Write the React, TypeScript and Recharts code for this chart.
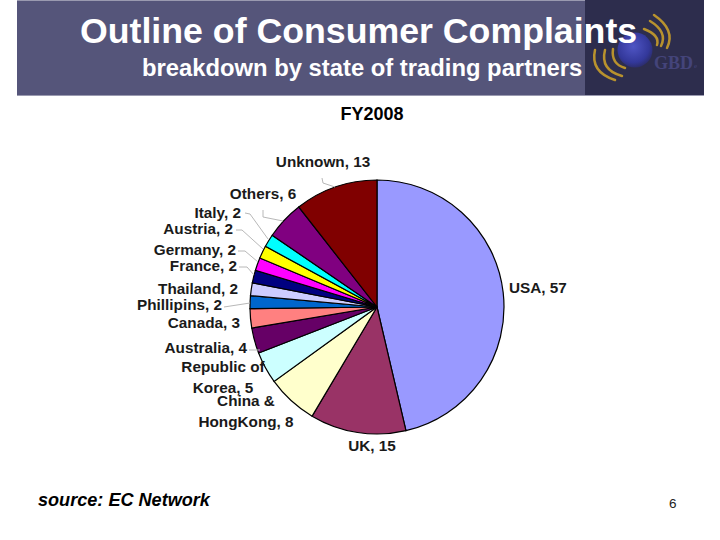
import { PieChart, Pie, Cell } from 'recharts';

const countries = ['USA', 'UK', 'China & HongKong', 'Republic of Korea', 'Australia', 'Canada', 'Phillipins', 'Thailand', 'France', 'Germany', 'Austria', 'Italy', 'Others', 'Unknown'];
const complaints = [57, 15, 8, 5, 4, 3, 2, 2, 2, 2, 2, 2, 6, 13];
const sliceColors = ['#9999ff', '#993366', '#ffffcc', '#ccffff', '#660066', '#ff8080', '#0066cc', '#ccccff', '#000080', '#ff00ff', '#ffff00', '#00ffff', '#800080', '#800000'];

const pieData = countries.map((name, i) => ({ name, value: complaints[i] }));

// hand placed labels: lines, anchor x, first baseline, text anchor, leader line points
type Lab = { lines: string[]; x: number; y: number; anchor: string; leader?: string };
const labels: Lab[] = [
  { lines: ['USA, 57'], x: 509, y: 293, anchor: 'start' },
  { lines: ['UK, 15'], x: 372, y: 451, anchor: 'middle' },
  { lines: ['China &', 'HongKong, 8'], x: 246, y: 406, anchor: 'middle' },
  { lines: ['Republic of', 'Korea, 5'], x: 223, y: 372, anchor: 'middle' },
  { lines: ['Australia, 4'], x: 247, y: 353, anchor: 'end', leader: '249,350 260,350' },
  { lines: ['Canada, 3'], x: 240, y: 328, anchor: 'end' },
  { lines: ['Phillipins, 2'], x: 222, y: 310, anchor: 'end', leader: '224,307 250,303' },
  { lines: ['Thailand, 2'], x: 238, y: 294, anchor: 'end' },
  { lines: ['France, 2'], x: 237, y: 271, anchor: 'end', leader: '239,267 247,267 254,275' },
  { lines: ['Germany, 2'], x: 236, y: 255, anchor: 'end', leader: '238,251 245,251 258,262' },
  { lines: ['Austria, 2'], x: 233, y: 234, anchor: 'end', leader: '236,230 242,230 263,249' },
  { lines: ['Italy, 2'], x: 241, y: 218, anchor: 'end', leader: '245,213 250,214 268,239' },
  { lines: ['Others, 6'], x: 263, y: 199, anchor: 'middle', leader: '263,210 263,217 283,221' },
  { lines: ['Unknown, 13'], x: 323, y: 167, anchor: 'middle', leader: '322,178 323,183 335,187' },
];

const renderLabel = (props: any) => {
  const lab = labels[props.index];
  return (
    <g key={props.index}>
      {lab.leader && <polyline points={lab.leader} fill="none" stroke="#b8b8b8" strokeWidth={1} />}
      <text x={lab.x} y={lab.y} textAnchor={lab.anchor} fontFamily="'Liberation Sans', Arial, sans-serif" fontWeight="bold" fontSize={15.3} fill="#1a1a1a">
        {lab.lines.map((l, i) => (
          <tspan key={i} x={lab.x} dy={i === 0 ? 0 : 21}>{l}</tspan>
        ))}
      </text>
    </g>
  );
};

function Logo() {
  const arcs = [
    'M654 15 Q676 30 667 48', 'M650 21 Q668 32 661 46', 'M644 29 Q660 35 657 45',
    'M615 80 Q590 72 595 50', 'M622 76 Q600 70 605 50', 'M625 68 Q611 64 613 49',
  ];
  return (
    <svg width={119} height={95} viewBox="585 0 119 95" style={{ position: 'absolute', left: 585, top: 0 }}>
      <defs>
        <radialGradient id="ball" cx="45%" cy="40%" r="65%">
          <stop offset="0%" stopColor="#4f55c4" />
          <stop offset="70%" stopColor="#33389a" />
          <stop offset="100%" stopColor="#2a2a60" />
        </radialGradient>
      </defs>
      <rect x={585} y={0} width={119} height={95} fill="#2d2d4d" />
      <circle cx={635} cy={50} r={17.5} fill="url(#ball)" />
      {arcs.map((d, i) => (
        <path key={i} d={d} fill="none" stroke="#b8922e" strokeWidth={2.5} strokeLinecap="round" />
      ))}
      <text x={654} y={69} fontFamily="'Liberation Serif', serif" fontWeight="bold" fontSize={18} fill="#44447a">GBD</text>
      <text x={694} y={68} fontFamily="'Liberation Serif', serif" fontSize={7} fill="#44447a">e</text>
    </svg>
  );
}

const sans = "'Liberation Sans', Arial, sans-serif";

export default function App() {
  return (
    <div style={{ position: 'absolute', left: 0, top: 0, width: 720, height: 540, background: '#fff', overflow: 'hidden', fontFamily: sans }}>
      <div style={{ position: 'absolute', left: 17, top: 0, width: 687, height: 96, background: '#55557a', borderTop: '1px solid #9a9ab0', borderBottom: '1px solid #9a9ab0', boxSizing: 'border-box' }} />
      <Logo />
      <div style={{ position: 'absolute', left: 80, top: 11, fontSize: 35.7, fontWeight: 'bold', color: '#fff', whiteSpace: 'nowrap' }}>Outline of Consumer Complaints</div>
      <div style={{ position: 'absolute', left: 142, top: 54, fontSize: 23.8, fontWeight: 'bold', color: '#fff', whiteSpace: 'nowrap' }}>breakdown by state of trading partners</div>
      <div style={{ position: 'absolute', left: 272, width: 200, textAlign: 'center', top: 104, fontSize: 18, fontWeight: 'bold', color: '#000' }}>FY2008</div>
      <div style={{ position: 'absolute', left: 0, top: 0 }}>
        <PieChart width={720} height={540} margin={{ top: 0, right: 0, bottom: 0, left: 0 }}>
          <Pie
            data={pieData}
            dataKey="value"
            nameKey="name"
            cx={377}
            cy={307}
            outerRadius={127}
            startAngle={90}
            endAngle={-270}
            stroke="#000"
            strokeWidth={1.2}
            label={renderLabel}
            labelLine={false}
            isAnimationActive={false}
          >
            {pieData.map((d, i) => (
              <Cell key={d.name} fill={sliceColors[i]} />
            ))}
          </Pie>
        </PieChart>
      </div>
      <div style={{ position: 'absolute', left: 38, top: 490, fontSize: 18.1, fontWeight: 'bold', fontStyle: 'italic', color: '#000' }}>source: EC Network</div>
      <div style={{ position: 'absolute', left: 669, top: 496, fontSize: 13.5, color: '#222' }}>6</div>
    </div>
  );
}
